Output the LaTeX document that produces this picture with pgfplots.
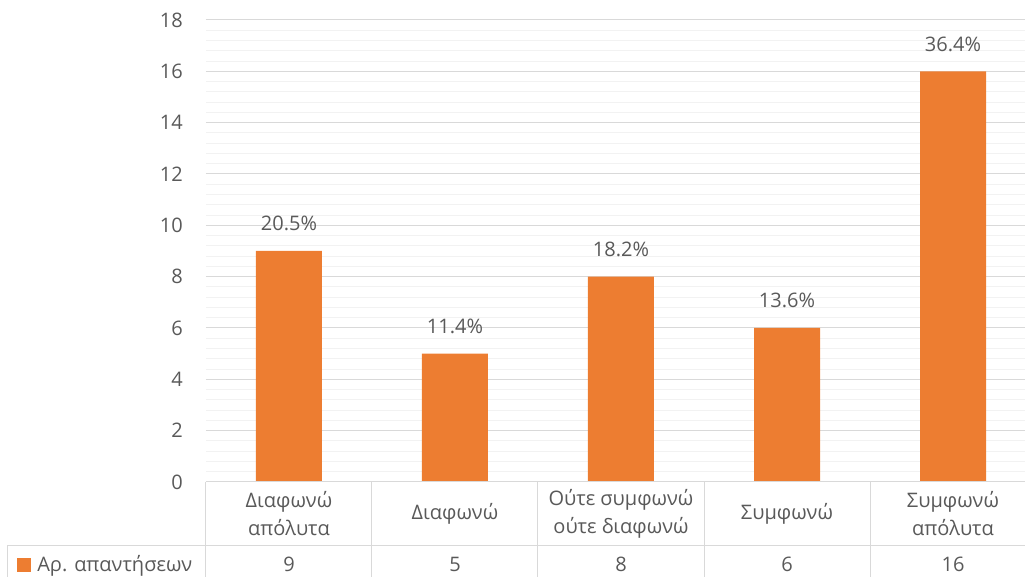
\documentclass[border=0pt]{standalone}
\usepackage{fontspec}
\setmainfont{Open Sans}
\usepackage{pgfplots}
\pgfplotsset{compat=1.18}
\usepackage{pgfplotstable}

\definecolor{barorange}{HTML}{ED7D31}
\definecolor{txtgray}{HTML}{595959}
\definecolor{majgrid}{HTML}{D9D9D9}
\definecolor{mingrid}{HTML}{F2F2F2}
\newcommand\chartfont{\fontsize{15}{21}\selectfont}

% responses per answer and share of the 44 answers (%)
\pgfplotstableread[col sep=comma]{
x,n,pct
0,9,20.5
1,5,11.4
2,8,18.2
3,6,13.6
4,16,36.4
}\responses

\begin{document}
\begin{tikzpicture}
\begin{axis}[
  name=ax, at={(0,0)}, anchor=south west,
  scale only axis, width=622.5pt, height=346.5pt,
  xmin=-0.5, xmax=4.5, ymin=0, ymax=18,
  ybar, bar width=49.5pt,
  ytick={0,2,...,18}, minor y tick num=4,
  ymajorgrids, yminorgrids,
  major grid style={draw=majgrid, line width=0.75pt},
  minor grid style={draw=mingrid, line width=0.75pt},
  xtick=data,
  xticklabels={{Διαφωνώ\\απόλυτα},{Διαφωνώ},{Ούτε συμφωνώ\\ούτε διαφωνώ},{Συμφωνώ},{Συμφωνώ\\απόλυτα}},
  xticklabel style={align=center, anchor=center, yshift=-24pt, font=\chartfont, text=txtgray},
  yticklabel style={anchor=east, inner sep=0pt, xshift=-17.25pt, font=\chartfont, text=txtgray},
  axis line style={draw=none},
  tick style={draw=none},
  major tick length=0pt, minor tick length=0pt,
  /pgf/number format/assume math mode=true,
  clip=false,
  nodes near coords={\pgfmathprintnumber[fixed,fixed zerofill,precision=1]{\pgfplotspointmeta}\%},
  nodes near coords style={anchor=base, inner sep=0pt, yshift=15pt, font=\chartfont, text=txtgray},
  point meta=explicit,
]
\addplot[fill=barorange, draw=none] table[x=x, y=n, meta=pct]{\responses};

% data table under the plot
\draw[majgrid, line width=0.75pt] (axis cs:-0.5,0) -- (axis cs:4.5,0);
\draw[majgrid, line width=0.75pt] (axis cs:-1.6928,-2.455) -- (axis cs:4.5,-2.455);
\draw[majgrid, line width=0.75pt] (axis cs:-1.6928,-2.455) -- (axis cs:-1.6928,-5);
\draw[majgrid, line width=0.75pt] (axis cs:-0.5,0) -- (axis cs:-0.5,-5);
\draw[majgrid, line width=0.75pt] (axis cs:0.5,0) -- (axis cs:0.5,-5);
\draw[majgrid, line width=0.75pt] (axis cs:1.5,0) -- (axis cs:1.5,-5);
\draw[majgrid, line width=0.75pt] (axis cs:2.5,0) -- (axis cs:2.5,-5);
\draw[majgrid, line width=0.75pt] (axis cs:3.5,0) -- (axis cs:3.5,-5);
\draw[majgrid, line width=0.75pt] (axis cs:4.5,0) -- (axis cs:4.5,-5);
\fill[barorange] (axis cs:-1.6386,-2.961) rectangle (axis cs:-1.5542,-3.507);
\node[anchor=base west, inner sep=0pt, font=\chartfont, text=txtgray] at (axis cs:-1.518,-3.506) {Αρ. απαντήσεων};
\node[anchor=base, inner sep=0pt, font=\chartfont, text=txtgray] at (axis cs:0,-3.506) {9};
\node[anchor=base, inner sep=0pt, font=\chartfont, text=txtgray] at (axis cs:1,-3.506) {5};
\node[anchor=base, inner sep=0pt, font=\chartfont, text=txtgray] at (axis cs:2,-3.506) {8};
\node[anchor=base, inner sep=0pt, font=\chartfont, text=txtgray] at (axis cs:3,-3.506) {6};
\node[anchor=base, inner sep=0pt, font=\chartfont, text=txtgray] at (axis cs:4,-3.506) {16};
\end{axis}
\pgfresetboundingbox
\useasboundingbox (-154.5pt,-71.25pt) rectangle (614.25pt,361.5pt);
\end{tikzpicture}
\end{document}
